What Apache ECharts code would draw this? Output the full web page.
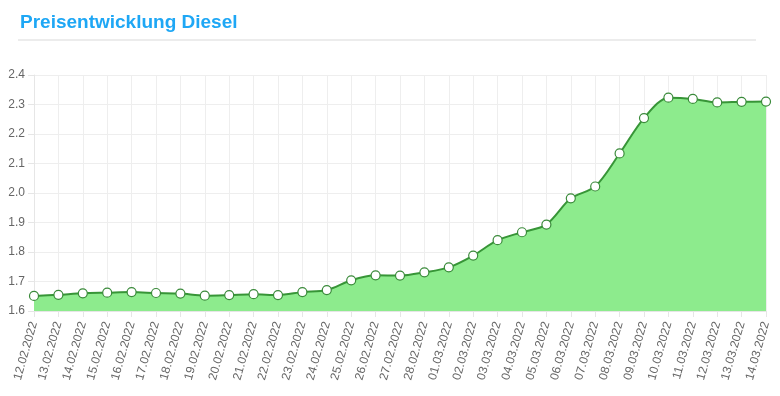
<!DOCTYPE html>
<html>
<head>
<meta charset="utf-8">
<script src="https://cdn.jsdelivr.net/npm/echarts@6/dist/echarts.min.js"></script>
<style>
html,body{margin:0;padding:0;background:#fff;}
#c{width:780px;height:396px;}
</style>
</head>
<body>
<div id="c"></div>
<script>
const titleText = 'Preisentwicklung Diesel';
const dates = ['12.02.2022','13.02.2022','14.02.2022','15.02.2022','16.02.2022','17.02.2022','18.02.2022','19.02.2022','20.02.2022','21.02.2022','22.02.2022','23.02.2022','24.02.2022','25.02.2022','26.02.2022','27.02.2022','28.02.2022','01.03.2022','02.03.2022','03.03.2022','04.03.2022','05.03.2022','06.03.2022','07.03.2022','08.03.2022','09.03.2022','10.03.2022','11.03.2022','12.03.2022','13.03.2022','14.03.2022'];
const prices = [1.651,1.655,1.660,1.662,1.664,1.661,1.659,1.652,1.654,1.657,1.654,1.664,1.671,1.704,1.721,1.720,1.731,1.748,1.788,1.840,1.867,1.893,1.982,2.022,2.134,2.254,2.323,2.319,2.307,2.309,2.310];
const yMin = 1.6, yMax = 2.4, yStep = 0.1;

const chart = echarts.init(document.getElementById('c'), null, {renderer:'canvas'});
const font = '"Liberation Sans", Arial, Helvetica, sans-serif';
chart.setOption({
  animation: false,
  backgroundColor: '#fff',
  title: {
    text: titleText, left: 15, top: 8,
    textStyle: {color: '#1ea7f5', fontSize: 19, fontWeight: 'bold', fontFamily: font}
  },
  graphic: [{
    type: 'rect', left: 18, top: 39, shape: {width: 738, height: 2},
    style: {fill: '#ececec'}
  }],
  grid: {left: 34, right: 14, top: 75, bottom: 85},
  xAxis: {
    type: 'category', data: dates, boundaryGap: false,
    axisLine: {show: true, lineStyle: {color: '#e6e6e6'}},
    axisTick: {show: true, alignWithLabel: true, length: 6, lineStyle: {color: '#e6e6e6'}},
    splitLine: {show: true, lineStyle: {color: '#eeeeee'}},
    axisLabel: {rotate: 74, margin: 11, interval: 0, color: '#666', fontSize: 12, fontFamily: font}
  },
  yAxis: {
    type: 'value', min: yMin, max: yMax, interval: yStep,
    axisLine: {show: true, lineStyle: {color: '#e6e6e6'}},
    axisTick: {show: true, length: 6, lineStyle: {color: '#e6e6e6'}},
    splitLine: {show: true, lineStyle: {color: '#eeeeee'}},
    axisLabel: {color: '#666', fontSize: 12, fontFamily: font, margin: 9,
      formatter: v => v.toFixed(1)}
  },
  series: [{
    type: 'line', data: prices, smooth: 0.3,
    symbol: 'circle', symbolSize: 9,
    itemStyle: {color: '#ffffff', borderColor: '#3a8a3a', borderWidth: 1.2},
    lineStyle: {color: '#379537', width: 2},
    areaStyle: {color: '#8deb8d', opacity: 1}
  }]
});
</script>
</body>
</html>
